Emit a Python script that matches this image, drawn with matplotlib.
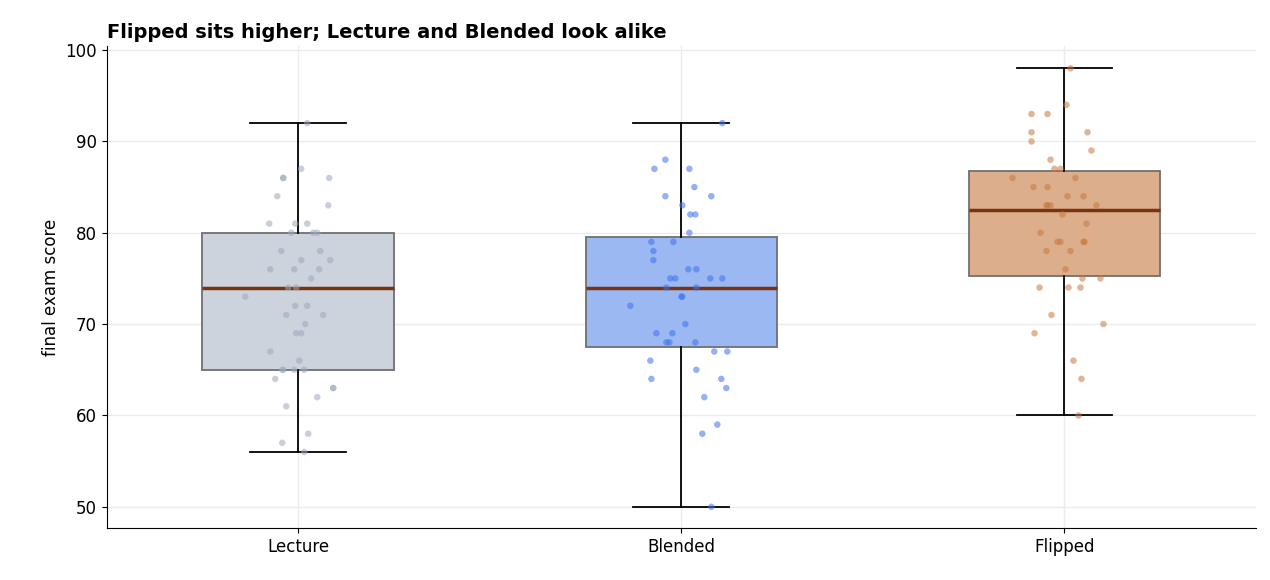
import matplotlib
matplotlib.use("Agg")
import matplotlib.pyplot as plt
import numpy as np

plt.rcParams["font.family"] = ["DejaVu Sans"]

groups = ["Lecture", "Blended", "Flipped"]
lecture = [92,87,86,86,86,84,83,81,81,81,80,80,80,78,78,77,77,76,76,76,75,74,74,73,72,72,71,71,70,69,69,67,66,65,65,65,65,64,63,63,62,61,58,57,56]
lecture_jit = [9,3,-15,-15,31,-21,30,-29,-3,9,-7,15,19,-17,22,3,32,-28,-4,21,13,-10,-2,-53,-3,9,-12,25,7,-2,3,-28,1,-16,-15,-4,6,-23,35,35,19,-12,10,-16,6]
blended = [92,88,87,87,85,84,84,83,82,82,80,79,79,78,77,76,76,75,75,75,75,74,74,73,73,72,70,69,69,68,68,68,67,67,66,65,64,64,63,62,59,58,50]
blended_jit = [41,-16,-27,8,13,-16,30,1,9,14,8,-30,-8,-28,-28,7,15,-11,-6,29,41,-15,15,0,1,-51,4,-25,-9,-15,-12,14,33,46,-31,15,-30,40,45,23,36,21,30]
flipped = [98,94,93,93,91,91,90,89,88,87,87,86,86,85,85,84,84,83,83,83,83,82,81,80,79,79,79,79,78,78,76,75,75,74,74,74,71,70,69,66,64,60]
flipped_jit = [6,2,-33,-17,-33,23,-33,27,-14,-10,-4,-52,11,-31,-17,3,19,-18,-17,-14,32,-2,22,-24,-7,-4,19,20,-18,6,1,18,36,-25,4,16,-13,39,-30,9,17,14]

data = [lecture, blended, flipped]
jits = [lecture_jit, blended_jit, flipped_jit]
box_colors = ["#cdd3dd", "#9bb8f3", "#dcae8c"]
pt_colors = ["#9ea9bd", "#3b72ea", "#c8783f"]

fig, ax = plt.subplots(figsize=(12.7, 5.8), dpi=100)
fig.subplots_adjust(left=0.084, right=0.989, top=0.92, bottom=0.09)
ax.set_axisbelow(True)
ax.grid(True, color="#ebebeb", linewidth=1)
bp = ax.boxplot(data, positions=[0, 1, 2], widths=0.5, whis=(0, 100), patch_artist=True,
                showfliers=False, zorder=2,
                medianprops=dict(color="#7a3210", linewidth=2.5),
                whiskerprops=dict(color="black", linewidth=1.3),
                capprops=dict(color="black", linewidth=1.3),
                boxprops=dict(edgecolor="#707070", linewidth=1.3))
for p, c in zip(bp["boxes"], box_colors):
    p.set_facecolor(c)
for i, (d, j) in enumerate(zip(data, jits)):
    x = i + np.array(j) / 383.5
    ax.scatter(x, d, s=22, color=pt_colors[i], alpha=0.55, edgecolors="none", zorder=3)

ax.set_xticks([0, 1, 2])
ax.set_xticklabels(groups, fontsize=12)
ax.tick_params(axis="y", labelsize=12)
ax.set_xlim(-0.5, 2.5)
ax.set_ylim(47.7, 100.4)
ax.set_yticks([50, 60, 70, 80, 90, 100])
ax.set_ylabel("final exam score", fontsize=12)
ax.set_title("Flipped sits higher; Lecture and Blended look alike", loc="left",
             fontsize=14, fontweight="bold")
for s in ["top", "right"]:
    ax.spines[s].set_visible(False)
fig.savefig("out.png")
